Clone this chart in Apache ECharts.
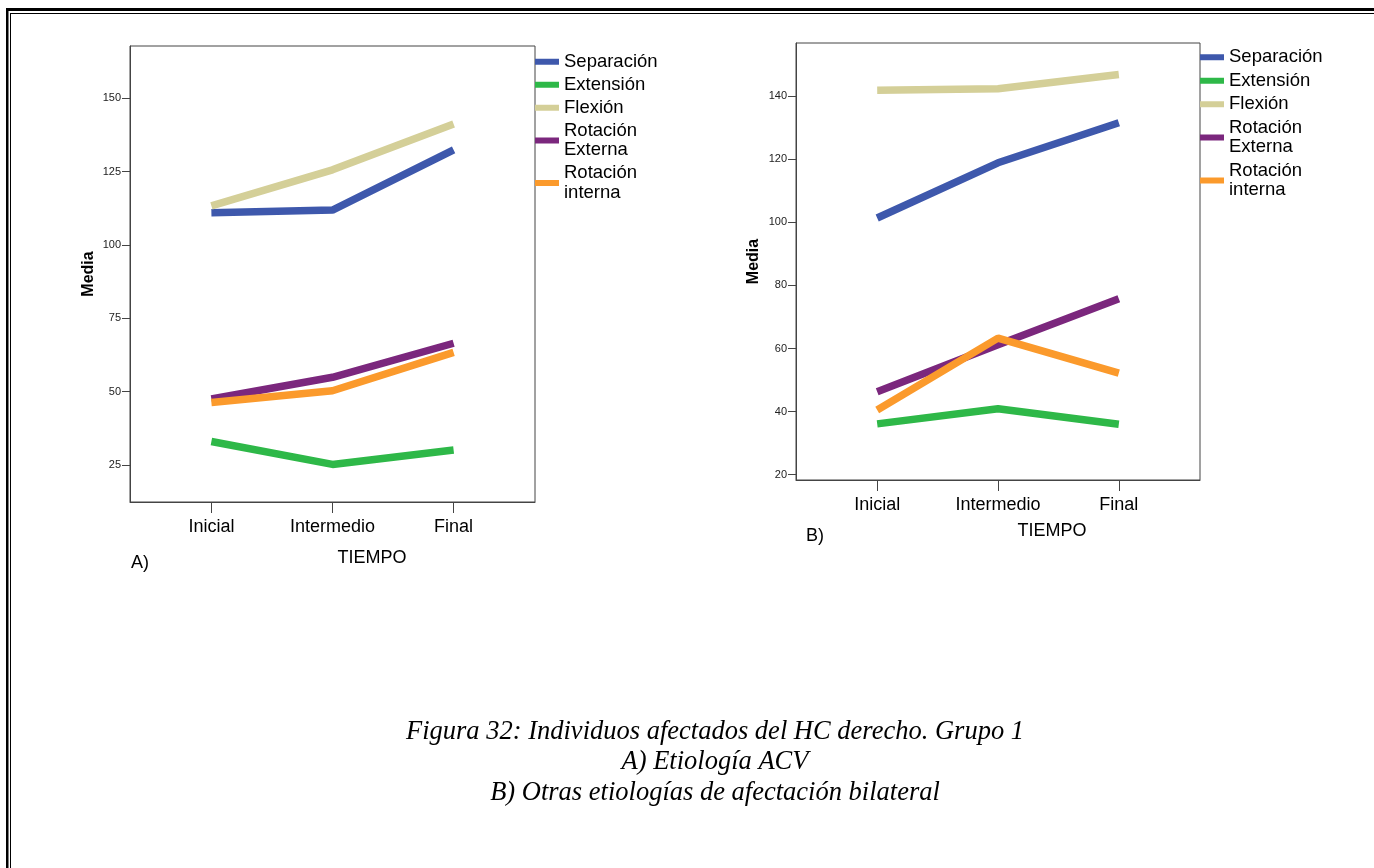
<!DOCTYPE html>
<html>
<head>
<meta charset="utf-8">
<script src="https://cdn.jsdelivr.net/npm/echarts@6/dist/echarts.min.js"></script>
<style>
html,body{margin:0;padding:0;background:#fff;}
#c{width:1374px;height:868px;}
</style>
</head>
<body>
<div id="c"></div>
<script>
// ---- data ----
const categories = ['Inicial', 'Intermedio', 'Final'];
const seriesNames = ['Separación', 'Extensión', 'Flexión', 'Rotación Externa', 'Rotación interna'];
// Chart A) Etiología ACV
const aSeparacion = [111.0, 111.9, 132.4];
const aExtension = [33.0, 25.2, 30.1];
const aFlexion = [113.3, 125.6, 141.2];
const aRotExterna = [47.5, 54.9, 66.5];
const aRotInterna = [46.3, 50.3, 63.4];
const aTicks = [25, 50, 75, 100, 125, 150];
// Chart B) Otras etiologías
const bSeparacion = [101.4, 118.9, 131.6];
const bExtension = [36.1, 40.9, 36.0];
const bFlexion = [141.9, 142.4, 146.9];
const bRotExterna = [46.3, 61.2, 75.8];
const bRotInterna = [40.5, 63.3, 52.2];
const bTicks = [20, 40, 60, 80, 100, 120, 140];
const xTitle = 'TIEMPO';
const yTitle = 'Media';
const captionLines = ['Figura 32: Individuos afectados del HC derecho. Grupo 1', 'A) Etiología ACV', 'B) Otras etiologías de afectación bilateral'];

// ---- styles ----
const colors = ['#3e58ac', '#2eb848', '#d4cf98', '#7b277d', '#fb9a2c'];
const font = '"Liberation Sans", Arial, sans-serif';
const serif = '"Liberation Serif", "Times New Roman", serif';
const frame = '#444';

const chart = echarts.init(document.getElementById('c'), null, {renderer: 'canvas'});

function xAxisCfg(gi) {
  return {
    type: 'value', gridIndex: gi, min: -0.672, max: 2.672,
    splitLine: {show: false},
    axisLine: {show: true, onZero: false, lineStyle: {color: frame, width: 1}},
    axisTick: {show: true, length: 11, customValues: [0, 1, 2], lineStyle: {color: frame}},
    axisLabel: {customValues: [0, 1, 2], margin: 16, fontSize: 18, color: '#000', fontFamily: font,
      formatter: v => categories[Math.round(v)]}
  };
}
function yAxisCfg(gi, min, max, ticks, gap) {
  return {
    type: 'value', gridIndex: gi, min: min, max: max,
    name: yTitle, nameLocation: 'middle', nameGap: gap,
    nameTextStyle: {fontSize: 16, fontWeight: 'bold', color: '#000', fontFamily: font},
    splitLine: {show: false},
    axisLine: {show: true, onZero: false, lineStyle: {color: frame, width: 1}},
    axisTick: {show: true, length: 8, customValues: ticks, lineStyle: {color: frame}},
    axisLabel: {customValues: ticks, margin: 9, fontSize: 11, color: '#222', fontFamily: font}
  };
}
function mk(name, idx, gi, vals) {
  return {
    name: name, type: 'line', xAxisIndex: gi, yAxisIndex: gi,
    data: vals.map((v, i) => [i, v]),
    showSymbol: false, symbol: 'none', silent: true,
    lineStyle: {width: 7.5, color: colors[idx], cap: 'butt'},
    itemStyle: {color: colors[idx]}
  };
}
function legendCfg(left, top, gap) {
  return {
    orient: 'vertical', left: left, top: top, itemGap: gap, padding: 0,
    icon: 'rect', itemWidth: 24, itemHeight: 6,
    selectedMode: false,
    data: seriesNames,
    formatter: n => n.replace('Rotación ', 'Rotación\n'),
    textStyle: {fontSize: 18.5, lineHeight: 19.5, color: '#000', fontFamily: font}
  };
}

const txt = (x, y, s, extra) => Object.assign({
  type: 'text', x: x, y: y,
  style: Object.assign({text: s, fill: '#000', font: '18px ' + font, textVerticalAlign: 'middle'}, extra || {})
});

const option = {
  backgroundColor: '#fff',
  animation: false,
  grid: [
    {left: 130, top: 46, width: 405, height: 456, show: true, borderColor: frame, borderWidth: 1, containLabel: false},
    {left: 796, top: 43, width: 404, height: 437, show: true, borderColor: frame, borderWidth: 1, containLabel: false}
  ],
  xAxis: [xAxisCfg(0), xAxisCfg(1)],
  yAxis: [yAxisCfg(0, 12.4, 167.8, aTicks, 33), yAxisCfg(1, 18.3, 156.9, bTicks, 34)],
  legend: [legendCfg(535, 52, 3.5), legendCfg(1200, 47.5, 4)],
  series: [
    mk(seriesNames[0], 0, 0, aSeparacion),
    mk(seriesNames[1], 1, 0, aExtension),
    mk(seriesNames[2], 2, 0, aFlexion),
    mk(seriesNames[3], 3, 0, aRotExterna),
    mk(seriesNames[4], 4, 0, aRotInterna),
    mk(seriesNames[0], 0, 1, bSeparacion),
    mk(seriesNames[1], 1, 1, bExtension),
    mk(seriesNames[2], 2, 1, bFlexion),
    mk(seriesNames[3], 3, 1, bRotExterna),
    mk(seriesNames[4], 4, 1, bRotInterna)
  ],
  graphic: [
    // page border
    {type: 'rect', shape: {x: 6, y: 8, width: 1368, height: 3}, style: {fill: '#000'}, silent: true},
    {type: 'rect', shape: {x: 10, y: 13, width: 1364, height: 1}, style: {fill: '#000'}, silent: true},
    {type: 'rect', shape: {x: 6, y: 8, width: 2.5, height: 860}, style: {fill: '#000'}, silent: true},
    {type: 'rect', shape: {x: 10, y: 13, width: 1, height: 855}, style: {fill: '#000'}, silent: true},
    // axis titles and panel labels
    txt(372, 558, xTitle, {textAlign: 'center'}),
    txt(1052, 531, xTitle, {textAlign: 'center'}),
    txt(131, 563, 'A)', {textAlign: 'left'}),
    txt(806, 536, 'B)', {textAlign: 'left'}),
    // caption
    txt(715, 732, captionLines[0], {textAlign: 'center', font: 'italic 26.5px ' + serif}),
    txt(715, 762, captionLines[1], {textAlign: 'center', font: 'italic 26.5px ' + serif}),
    txt(715, 793, captionLines[2], {textAlign: 'center', font: 'italic 26.5px ' + serif})
  ]
};
chart.setOption(option);
</script>
</body>
</html>
